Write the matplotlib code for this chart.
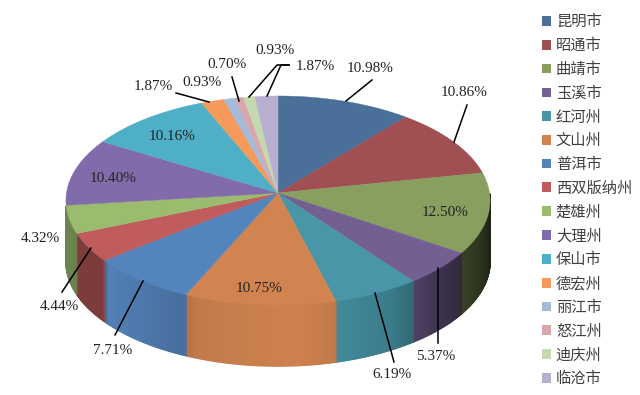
import numpy as np
import matplotlib
matplotlib.use("Agg")
import matplotlib.pyplot as plt
from matplotlib.patches import Patch

# data
cities = ["昆明市", "昭通市", "曲靖市", "玉溪市", "红河州", "文山州", "普洱市", "西双版纳州",
          "楚雄州", "大理州", "保山市", "德宏州", "丽江市", "怒江州", "迪庆州", "临沧市"]
shares = [10.98, 10.86, 12.50, 5.37, 6.19, 10.75, 7.71, 4.44,
          4.32, 10.40, 10.16, 1.87, 0.93, 0.70, 0.93, 1.87]
colors = ["#4a7099", "#a04f52", "#889f5f", "#745f92", "#4896a8", "#d28450", "#5484bc", "#c05c5c",
          "#9bbb6e", "#826bab", "#4fafc6", "#f59a5a", "#a5b9d9", "#d9a7ab", "#c5d9b0", "#b8afd0"]

# pie geometry, in pixels of the picture
CX, CY = 278, 193
A0, B0 = 211.5, 104
PERSP = 0.072
DEPTH = 61
WALL_FROM, WALL_TO = 90, 263  # only this part of the wall can be seen

# how dark the side wall gets going round the pie (degrees clockwise from top)
SHADE_ANG = [85, 100, 122, 135, 150, 175, 200, 206, 230, 233, 247, 250, 275]
SHADE_VAL = [0.18, 0.22, 0.4, 0.55, 0.82, 0.98, 0.93, 0.84, 0.98, 0.65, 0.65, 0.7, 0.7]


def rim(deg):
    t = np.radians(deg)
    w = 1 + PERSP * np.cos(t)
    return CX + A0 * np.sin(t) / w, CY - B0 * np.cos(t) / w


plt.rcParams["font.family"] = ["Liberation Serif", "Noto Sans CJK SC", "DejaVu Sans"]

fig = plt.figure(figsize=(6.4, 3.95), dpi=100)
ax = fig.add_axes([0, 0, 1, 1])
ax.set_xlim(0, 640)
ax.set_ylim(395, 0)
ax.axis("off")

edges = np.cumsum([0] + shares) / sum(shares) * 360

# side wall first, the top face covers the back part of it
for start, end, col in zip(edges[:-1], edges[1:], colors):
    start, end = max(start, WALL_FROM), min(end, WALL_TO)
    if start >= end:
        continue
    rgb = np.array(matplotlib.colors.to_rgb(col))
    steps = np.append(np.arange(start, end, 0.5), end)
    for a, b in zip(steps[:-1], steps[1:]):
        x0, y0 = rim(a)
        x1, y1 = rim(b)
        c = rgb * np.interp((a + b) / 2, SHADE_ANG, SHADE_VAL)
        ax.fill([x0, x1, x1, x0], [y0, y1, y1 + DEPTH, y0 + DEPTH], color=c, lw=1.0, zorder=1)

# top face
for start, end, col in zip(edges[:-1], edges[1:], colors):
    xs, ys = rim(np.linspace(start, end, 60))
    ax.fill(np.r_[CX, xs], np.r_[CY, ys], color=col, lw=0.3, zorder=2)

# value labels
label_pos = [(370, 68), (464, 92), (445, 212), (436, 357), (392, 375), (259, 288), (113, 350), (59, 307),
             (40, 239), (113, 178), (172, 137), (153, 87), (202, 82), (227, 65), (275, 50), (315, 66)]
for v, (x, y) in zip(shares, label_pos):
    ax.text(x, y, f"{v:.2f}%", ha="center", va="center", fontsize=11, color="#222222", zorder=4)

# leader lines
leaders = [
    [(346, 101), (372, 80)],
    [(454, 142), (467, 105)],
    [(438, 268), (438, 343)],
    [(375, 293), (394, 362)],
    [(143, 281), (115, 335)],
    [(91, 248), (62, 292)],
    [(176, 93), (209, 102)],
    [(232, 77), (239, 101)],
    [(249, 97), (277, 65), (289, 65)],
    [(267, 96), (281, 65), (289, 65)],
]
for pts in leaders:
    ax.plot(*zip(*pts), color="black", lw=1.1, zorder=3)

handles = [Patch(facecolor=c, edgecolor="none") for c in colors]
ax.legend(handles, cities, loc="upper left", bbox_to_anchor=(541.5 / 640, 1 - 14.5 / 395),
          frameon=False, fontsize=11, labelcolor="#404040", borderpad=0, borderaxespad=0,
          handlelength=0.61, handleheight=0.61, handletextpad=0.33, labelspacing=0.619)

fig.savefig("out.png", dpi=100)
